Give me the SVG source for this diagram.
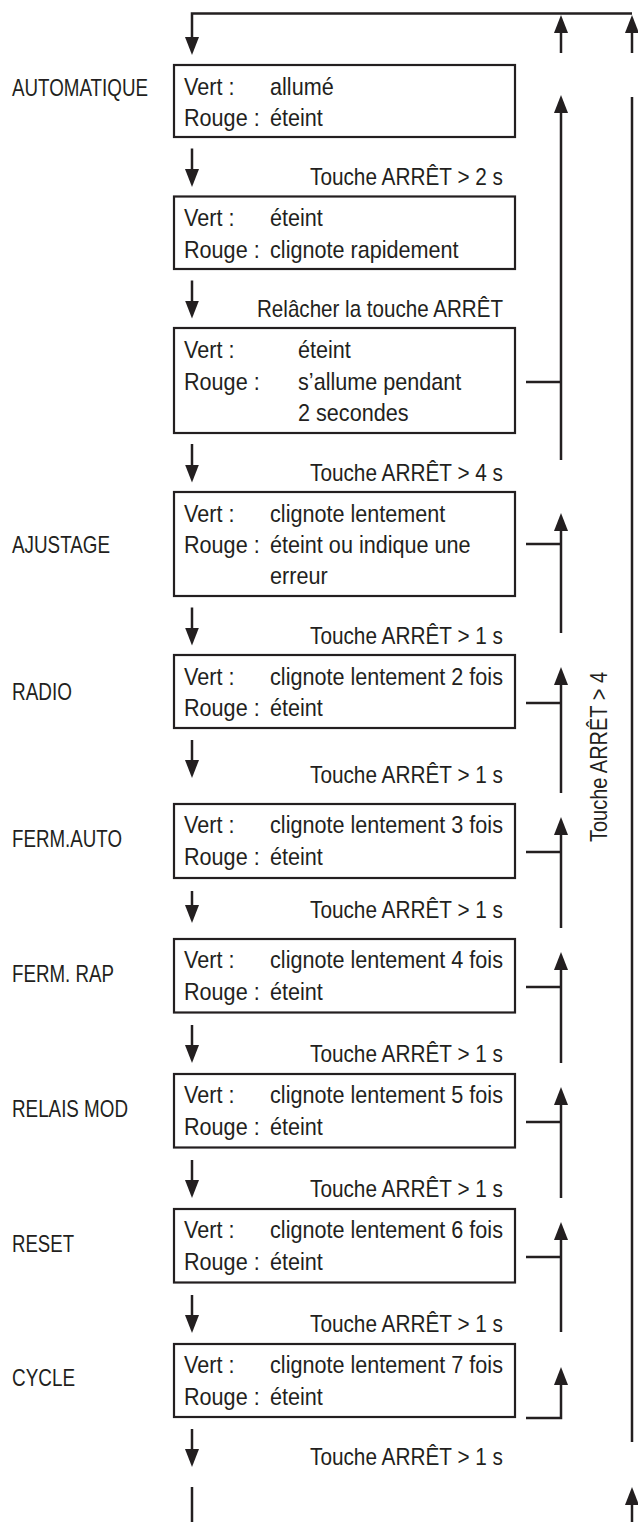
<svg xmlns="http://www.w3.org/2000/svg" width="638" height="1522" viewBox="0 0 638 1522">
<style>
text{font-family:"Liberation Sans",Arial,sans-serif;font-size:24px;fill:#231f20}
.box{fill:#fff;stroke:#231f20;stroke-width:2.2}
.c{fill:none;stroke:#231f20;stroke-width:2.5}
.a{fill:none;stroke:#231f20;stroke-width:2.5;marker-end:url(#ah)}
.r{text-anchor:end}
</style>
<defs>
<marker id="ah" viewBox="0 0 18 14" refX="8" refY="7" markerWidth="18" markerHeight="14" markerUnits="userSpaceOnUse" orient="auto"><path d="M0,0 L18,7 L0,14 z" fill="#231f20"/></marker>
</defs>
<rect width="638" height="1522" fill="#fff"/>

<g id="connectors">
<path class="a" d="M632,13.5 H192 V45"/>
<path class="a" d="M561,53 V25"/>
<path class="a" d="M632,53 V25"/>
<path class="c" d="M632,97 V1442"/>
<path class="a" d="M632,1522 V1497"/>
<path class="c" d="M192,1487 V1522"/>
<path class="a" d="M192,148.5 V177"/>
<path class="a" d="M192,280.5 V308.5"/>
<path class="a" d="M192,444 V472.5"/>
<path class="a" d="M192,607.5 V635.5"/>
<path class="a" d="M192,740 V768"/>
<path class="a" d="M192,891 V913"/>
<path class="a" d="M192,1025 V1053"/>
<path class="a" d="M192,1160 V1188"/>
<path class="a" d="M192,1295 V1323"/>
<path class="a" d="M192,1429 V1457"/>
<path class="a" d="M561,460 V105"/>
<path class="c" d="M526,382 H561"/>
<path class="a" d="M561,633 V523"/>
<path class="c" d="M526,544 H561"/>
<path class="a" d="M561,793 V677"/>
<path class="c" d="M526,703 H561"/>
<path class="a" d="M561,928 V827"/>
<path class="c" d="M526,852 H561"/>
<path class="a" d="M561,1063 V962"/>
<path class="c" d="M526,987 H561"/>
<path class="a" d="M561,1198 V1097"/>
<path class="c" d="M526,1122 H561"/>
<path class="a" d="M561,1332 V1232"/>
<path class="c" d="M526,1257 H561"/>
<path class="a" d="M526,1418 H561 V1377"/>
</g>

<g id="transition-labels">
<text class="r" x="503" y="185" textLength="193" lengthAdjust="spacingAndGlyphs">Touche ARRÊT &gt; 2 s</text>
<text class="r" x="503" y="316.5" textLength="246" lengthAdjust="spacingAndGlyphs">Relâcher la touche ARRÊT</text>
<text class="r" x="503" y="480.5" textLength="193" lengthAdjust="spacingAndGlyphs">Touche ARRÊT &gt; 4 s</text>
<text class="r" x="503" y="643.5" textLength="193" lengthAdjust="spacingAndGlyphs">Touche ARRÊT &gt; 1 s</text>
<text class="r" x="503" y="783" textLength="193" lengthAdjust="spacingAndGlyphs">Touche ARRÊT &gt; 1 s</text>
<text class="r" x="503" y="918" textLength="193" lengthAdjust="spacingAndGlyphs">Touche ARRÊT &gt; 1 s</text>
<text class="r" x="503" y="1062" textLength="193" lengthAdjust="spacingAndGlyphs">Touche ARRÊT &gt; 1 s</text>
<text class="r" x="503" y="1197" textLength="193" lengthAdjust="spacingAndGlyphs">Touche ARRÊT &gt; 1 s</text>
<text class="r" x="503" y="1332" textLength="193" lengthAdjust="spacingAndGlyphs">Touche ARRÊT &gt; 1 s</text>
<text class="r" x="503" y="1465" textLength="193" lengthAdjust="spacingAndGlyphs">Touche ARRÊT &gt; 1 s</text>
<text transform="translate(607,757) rotate(-90)" text-anchor="middle" textLength="170" lengthAdjust="spacingAndGlyphs">Touche ARRÊT &gt; 4</text>
</g>

<g id="n1">
<text x="12" y="96" textLength="136" lengthAdjust="spacingAndGlyphs">AUTOMATIQUE</text>
<rect class="box" x="174" y="65" width="341" height="72"/>
<g transform="translate(184,0) scale(0.9,1)">
<text x="0" y="95">Vert :</text><text x="95.6" y="95">allumé</text>
<text x="0" y="126.5">Rouge :</text><text x="95.6" y="126.5">éteint</text>
</g>
</g>
<g id="n2">
<rect class="box" x="174" y="196.5" width="341" height="72.5"/>
<g transform="translate(184,0) scale(0.9,1)">
<text x="0" y="226.5">Vert :</text><text x="95.6" y="226.5">éteint</text>
<text x="0" y="258">Rouge :</text><text x="95.6" y="258">clignote rapidement</text>
</g>
</g>
<g id="n3">
<rect class="box" x="174" y="328" width="341" height="105"/>
<g transform="translate(184,0) scale(0.9,1)">
<text x="0" y="358">Vert :</text><text x="126.7" y="358">éteint</text>
<text x="0" y="390">Rouge :</text><text x="126.7" y="390">s’allume pendant</text>
<text x="126.7" y="421.5">2 secondes</text>
</g>
</g>
<g id="n4">
<text x="12" y="553" textLength="98" lengthAdjust="spacingAndGlyphs">AJUSTAGE</text>
<rect class="box" x="174" y="492" width="341" height="104"/>
<g transform="translate(184,0) scale(0.9,1)">
<text x="0" y="522">Vert :</text><text x="95.6" y="522">clignote lentement</text>
<text x="0" y="553">Rouge :</text><text x="95.6" y="553">éteint ou indique une</text>
<text x="95.6" y="584">erreur</text>
</g>
</g>
<g id="n5">
<text x="12" y="700" textLength="60" lengthAdjust="spacingAndGlyphs">RADIO</text>
<rect class="box" x="174" y="655" width="341" height="73"/>
<g transform="translate(184,0) scale(0.9,1)">
<text x="0" y="685">Vert :</text><text x="95.6" y="685">clignote lentement 2 fois</text>
<text x="0" y="716.5">Rouge :</text><text x="95.6" y="716.5">éteint</text>
</g>
</g>
<g id="n6">
<text x="12" y="847" textLength="110" lengthAdjust="spacingAndGlyphs">FERM.AUTO</text>
<rect class="box" x="174" y="804" width="341" height="74"/>
<g transform="translate(184,0) scale(0.9,1)">
<text x="0" y="833.5">Vert :</text><text x="95.6" y="833.5">clignote lentement 3 fois</text>
<text x="0" y="865">Rouge :</text><text x="95.6" y="865">éteint</text>
</g>
</g>
<g id="n7">
<text x="12" y="982" textLength="102" lengthAdjust="spacingAndGlyphs">FERM. RAP</text>
<rect class="box" x="174" y="939" width="341" height="73.5"/>
<g transform="translate(184,0) scale(0.9,1)">
<text x="0" y="968.5">Vert :</text><text x="95.6" y="968.5">clignote lentement 4 fois</text>
<text x="0" y="1000">Rouge :</text><text x="95.6" y="1000">éteint</text>
</g>
</g>
<g id="n8">
<text x="12" y="1117" textLength="116" lengthAdjust="spacingAndGlyphs">RELAIS MOD</text>
<rect class="box" x="174" y="1074" width="341" height="73.5"/>
<g transform="translate(184,0) scale(0.9,1)">
<text x="0" y="1103.5">Vert :</text><text x="95.6" y="1103.5">clignote lentement 5 fois</text>
<text x="0" y="1135">Rouge :</text><text x="95.6" y="1135">éteint</text>
</g>
</g>
<g id="n9">
<text x="12" y="1252" textLength="62" lengthAdjust="spacingAndGlyphs">RESET</text>
<rect class="box" x="174" y="1209" width="341" height="73.5"/>
<g transform="translate(184,0) scale(0.9,1)">
<text x="0" y="1238.5">Vert :</text><text x="95.6" y="1238.5">clignote lentement 6 fois</text>
<text x="0" y="1270">Rouge :</text><text x="95.6" y="1270">éteint</text>
</g>
</g>
<g id="n10">
<text x="12" y="1386" textLength="63" lengthAdjust="spacingAndGlyphs">CYCLE</text>
<rect class="box" x="174" y="1344" width="341" height="73"/>
<g transform="translate(184,0) scale(0.9,1)">
<text x="0" y="1373.5">Vert :</text><text x="95.6" y="1373.5">clignote lentement 7 fois</text>
<text x="0" y="1405">Rouge :</text><text x="95.6" y="1405">éteint</text>
</g>
</g>
</svg>
